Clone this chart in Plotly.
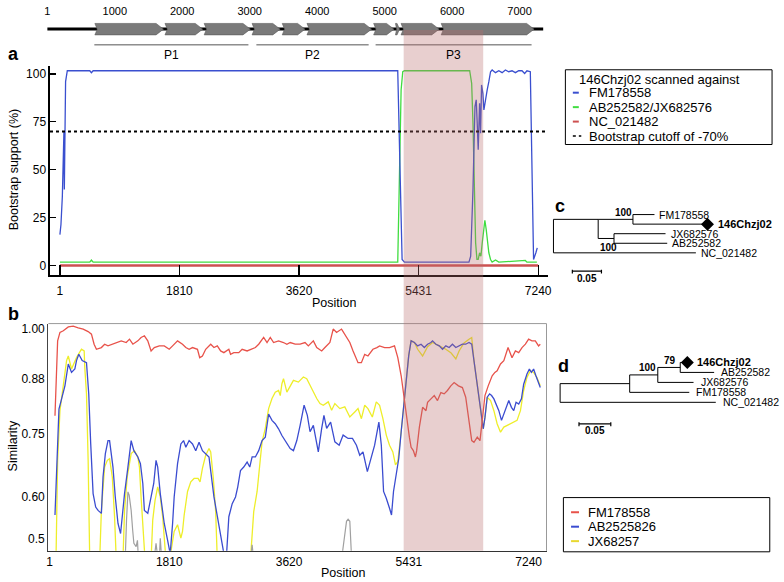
import plotly.graph_objects as go

W, H = 784, 582
FONT = "Liberation Sans, Arial, sans-serif"

# ----------------------------- data -----------------------------
genome_length = 7350
genome_ticks = [1, 1000, 2000, 3000, 4000, 5000, 6000, 7000]
gene_starts = [705, 1744, 2325, 3035, 3482, 3849, 4837, 5160, 5243, 5838]
gene_ends = [1722, 2303, 3010, 3452, 3820, 4807, 5138, 5220, 5808, 7215]
region_names = ["P1", "P2", "P3"]
region_starts = [697, 3099, 4866]
region_ends = [2981, 4763, 7178]
recombinant_region = [5205, 6409]

position_ticks = [1, 1810, 3620, 5431, 7240]
bootstrap_ticks = [0, 25, 50, 75, 100]
similarity_ticks = [0.5, 0.60, 0.75, 0.88, 1.00]
similarity_ticktext = ["0.5", "0.60", "0.75", "0.88", "1.00"]
bootstrap_cutoff = 70

query_name = "146Chzj02"
boot_legend_title = "146Chzj02 scanned against"
boot_names = ["FM178558", "AB252582/JX682576", "NC_021482"]
cutoff_name = "Bootstrap cutoff of -70%"
sim_names = ["FM178558", "AB2525826", "JX68257"]

# bootscan (panel a)
boot_pos_fm = [1, 17, 38, 53, 62, 68, 77, 87, 113, 453, 478, 504, 5115, 5181, 5216, 6193, 6219, 6254, 6284,
               6303, 6318, 6333, 6354, 6369, 6384, 6404, 6419, 6445, 6469, 6494, 6520, 6544, 6595, 6645, 6695,
               6745, 6795, 6845, 6896, 6946, 6996, 7036, 7071, 7122, 7146, 7171, 7206, 7227]
boot_fm = [16.1, 21.4, 36, 55, 70, 39.6, 69, 96, 101.7, 101.7, 100.7, 101.7, 101.7, 3.1, 1.7, 1.7, 4.8, 39.6, 83,
           86.5, 74.3, 60.4, 84.7, 69, 94.3, 89.9, 81.2, 88.2, 91.7, 96, 101.2, 102.1, 100.7, 101.7, 100.7,
           102.1, 101.2, 101.7, 100.7, 101.7, 101.7, 100.3, 101.7, 101.2, 39.6, 3.1, 6.6, 9.2]
boot_pos_ab = [1, 453, 478, 504, 5115, 5141, 5166, 5191, 5216, 6204, 6234, 6254, 6274, 6294, 6314, 6333, 6354,
               6374, 6394, 6419, 6434, 6454, 6474, 6494, 6520, 6544, 6595, 6645, 7046, 7071, 7221]
boot_ab = [1.7, 1.7, 2.8, 1.7, 1.7, 39.6, 91.7, 101.2, 101.7, 101.7, 95.1, 74.3, 39.6, 11.8, 3.1, 3.1, 6.6,
           4.8, 11.8, 20.5, 23.6, 18.8, 11.8, 6.6, 3.1, 1.7, 2.8, 1.7, 2.6, 1.7, 1.7]
boot_pos_nc = [1, 7240]
boot_nc = [0, 0]

# similarity plot (panel b)
sim_pos_fm = [83, 123, 158, 209, 284, 359, 434, 509, 584, 634, 674, 709, 784, 833, 884, 959, 1009, 1084, 1159,
              1209, 1260, 1335, 1384, 1434, 1485, 1535, 1584, 1659, 1734, 1809, 1860, 1935, 2010, 2060, 2110,
              2161, 2236, 2270, 2311, 2360, 2436, 2485, 2536, 2586, 2635, 2710, 2736, 2785, 2860, 2911, 2986,
              3062, 3111, 3161, 3236, 3287, 3336, 3386, 3461, 3536, 3587, 3637, 3712, 3787, 3862, 3911, 3987,
              4038, 4113, 4162, 4237, 4287, 4338, 4413, 4462, 4538, 4587, 4662, 4713, 4763, 4812, 4887, 4947,
              4988, 5063, 5138, 5213, 5263, 5314, 5348, 5389, 5438, 5464, 5498, 5529, 5548, 5589, 5638, 5689,
              5713, 5764, 5814, 5863, 5914, 5964, 6013, 6064, 6114, 6179, 6239, 6289, 6339, 6380, 6414, 6464,
              6505, 6539, 6580, 6629, 6689, 6730, 6764, 6815, 6865, 6929, 6989, 7040, 7090, 7140, 7191, 7240,
              7290, 7341, 7390, 7416]
sim_fm = [0.793, 0.971, 0.991, 0.995, 1.004, 1.006, 1.002, 0.999, 0.993, 0.987, 0.963, 0.951, 0.955, 0.963,
          0.959, 0.963, 0.967, 0.971, 0.967, 0.975, 0.963, 0.971, 0.979, 0.983, 0.971, 0.947, 0.955, 0.959,
          0.959, 0.951, 0.959, 0.971, 0.963, 0.955, 0.951, 0.955, 0.951, 0.931, 0.935, 0.951, 0.963, 0.955,
          0.959, 0.947, 0.943, 0.951, 0.939, 0.943, 0.943, 0.951, 0.947, 0.951, 0.955, 0.963, 0.979, 0.967,
          0.979, 0.967, 0.971, 0.967, 0.963, 0.967, 0.963, 0.963, 0.967, 0.959, 0.971, 0.955, 0.947, 0.955,
          0.967, 0.999, 0.991, 0.999, 0.987, 0.967, 0.947, 0.919, 0.919, 0.939, 0.935, 0.951, 0.955, 0.959,
          0.955, 0.955, 0.959, 0.931, 0.888, 0.845, 0.805, 0.742, 0.718, 0.710, 0.695, 0.710, 0.766, 0.813,
          0.805, 0.825, 0.833, 0.841, 0.829, 0.848, 0.845, 0.853, 0.864, 0.872, 0.864, 0.860, 0.837, 0.782,
          0.734, 0.730, 0.742, 0.734, 0.789, 0.841, 0.864, 0.888, 0.896, 0.900, 0.916, 0.924, 0.955, 0.931,
          0.947, 0.943, 0.955, 0.963, 0.975, 0.971, 0.971, 0.959, 0.963]
sim_pos_ab = [83, 108, 143, 183, 233, 284, 333, 383, 408, 443, 494, 559, 593, 623, 659, 698, 734, 784, 809, 844,
              884, 908, 959, 994, 1035, 1074, 1095, 1134, 1185, 1234, 1275, 1335, 1374, 1410, 1434, 1485, 1535,
              1575, 1610, 1635, 1674, 1710, 1734, 1785, 1824, 1860, 1884, 1935, 1985, 2026, 2060, 2110, 2161,
              2210, 2260, 2311, 2360, 2410, 2485, 2536, 2586, 2635, 2676, 2710, 2761, 2811, 2845, 2886, 2935,
              2986, 3026, 3062, 3111, 3161, 3212, 3261, 3311, 3362, 3411, 3461, 3512, 3562, 3637, 3686, 3737,
              3787, 3847, 3896, 3937, 3987, 4062, 4113, 4147, 4188, 4248, 4312, 4377, 4437, 4512, 4578, 4638,
              4688, 4737, 4803, 4863, 4913, 4977, 5014, 5048, 5089, 5138, 5168, 5198, 5239, 5278, 5314, 5348,
              5389, 5428, 5464, 5514, 5563, 5614, 5664, 5713, 5764, 5788, 5839, 5889, 5939, 5989, 6039, 6089,
              6140, 6189, 6239, 6289, 6339, 6380, 6414, 6449, 6490, 6530, 6554, 6580, 6614, 6650, 6680, 6715,
              6749, 6790, 6830, 6865, 6899, 6940, 6980, 7015, 7050, 7090, 7131, 7165, 7215, 7251, 7281, 7315,
              7350, 7380, 7416]
sim_ab = [0.557, 0.675, 0.809, 0.833, 0.864, 0.916, 0.896, 0.904, 0.924, 0.939, 0.924, 0.919, 0.845, 0.726,
          0.608, 0.576, 0.568, 0.561, 0.647, 0.703, 0.734, 0.734, 0.671, 0.600, 0.537, 0.513, 0.553, 0.608,
          0.671, 0.734, 0.710, 0.695, 0.679, 0.632, 0.568, 0.561, 0.600, 0.632, 0.687, 0.671, 0.608, 0.568,
          0.537, 0.497, 0.465, 0.537, 0.600, 0.679, 0.726, 0.734, 0.718, 0.734, 0.726, 0.710, 0.730, 0.710,
          0.703, 0.695, 0.600, 0.553, 0.505, 0.465, 0.465, 0.553, 0.584, 0.600, 0.624, 0.663, 0.671, 0.683,
          0.671, 0.695, 0.695, 0.710, 0.734, 0.742, 0.797, 0.782, 0.774, 0.762, 0.746, 0.734, 0.715, 0.710,
          0.734, 0.770, 0.818, 0.794, 0.755, 0.770, 0.707, 0.763, 0.794, 0.763, 0.778, 0.731, 0.723, 0.747,
          0.739, 0.739, 0.723, 0.699, 0.707, 0.660, 0.692, 0.723, 0.778, 0.723, 0.613, 0.597, 0.573, 0.557,
          0.613, 0.652, 0.692, 0.755, 0.810, 0.881, 0.936, 0.971, 0.967, 0.959, 0.963, 0.955, 0.963, 0.967,
          0.971, 0.963, 0.959, 0.951, 0.959, 0.955, 0.963, 0.955, 0.959, 0.963, 0.963, 0.967, 0.963, 0.924,
          0.884, 0.837, 0.782, 0.762, 0.789, 0.837, 0.845, 0.841, 0.833, 0.821, 0.805, 0.782, 0.797, 0.813,
          0.829, 0.813, 0.805, 0.825, 0.821, 0.833, 0.868, 0.892, 0.904, 0.896, 0.904, 0.888, 0.876, 0.860]
sim_pos_jx = [98, 123, 158, 209, 258, 284, 333, 408, 483, 524, 533, 559, 584, 608, 679, 758, 784, 833, 874, 908,
              949, 983, 1009, 1054, 1110, 1134, 1174, 1234, 1284, 1335, 1359, 1384, 1410, 1444, 1490, 1535, 1560,
              1595, 1635, 1674, 1710, 1734, 1760, 1835, 1884, 1935, 1985, 2010, 2035, 2086, 2135, 2185, 2245,
              2275, 2311, 2360, 2410, 2436, 2476, 2511, 2536, 2781, 3036, 3086, 3137, 3187, 3212, 3261, 3287,
              3311, 3362, 3411, 3461, 3487, 3512, 3536, 3587, 3637, 3686, 3761, 3836, 3887, 3937, 3987, 4038,
              4087, 4137, 4212, 4263, 4312, 4387, 4462, 4538, 4613, 4662, 4713, 4763, 4812, 4878, 4938, 4988,
              5038, 5089, 5138, 5188, 5228, 5263, 5314, 5348, 5389, 5428, 5464, 5514, 5563, 5638, 5713, 5788,
              5889, 5989, 6069, 6140, 6189, 6264, 6339, 6380, 6414, 6449, 6490, 6530, 6554, 6580, 6614, 6665,
              6715, 6764, 6815, 6865, 6914, 6965, 7015, 7065, 7116, 7165, 7215, 7266, 7315, 7365, 7416]
sim_jx = [0.45, 0.687, 0.805, 0.860, 0.924, 0.935, 0.904, 0.931, 0.951, 0.947, 0.908, 0.845, 0.687, 0.45, 0.42,
          0.45, 0.568, 0.671, 0.687, 0.691, 0.647, 0.553, 0.45, 0.42, 0.45, 0.568, 0.647, 0.703, 0.710, 0.695,
          0.671, 0.600, 0.537, 0.45, 0.42, 0.45, 0.545, 0.592, 0.624, 0.600, 0.553, 0.490, 0.45, 0.47, 0.518,
          0.534, 0.502, 0.518, 0.557, 0.613, 0.636, 0.644, 0.644, 0.636, 0.668, 0.699, 0.715, 0.707, 0.644,
          0.565, 0.45, 0.42, 0.45, 0.565, 0.613, 0.692, 0.731, 0.763, 0.786, 0.810, 0.834, 0.849, 0.853, 0.841,
          0.869, 0.881, 0.849, 0.865, 0.877, 0.873, 0.885, 0.881, 0.865, 0.849, 0.834, 0.822, 0.818, 0.826,
          0.806, 0.822, 0.810, 0.814, 0.790, 0.802, 0.810, 0.786, 0.818, 0.810, 0.790, 0.826, 0.818, 0.786,
          0.747, 0.723, 0.707, 0.676, 0.684, 0.755, 0.810, 0.881, 0.936, 0.971, 0.967, 0.951, 0.935, 0.957,
          0.967, 0.959, 0.951, 0.942, 0.928, 0.947, 0.966, 0.975, 0.979, 0.924, 0.884, 0.837, 0.782, 0.762,
          0.789, 0.837, 0.829, 0.805, 0.774, 0.754, 0.766, 0.770, 0.774, 0.777, 0.782, 0.805, 0.853, 0.884,
          0.900, 0.896, 0.884, 0.864]
sim_pos_other = [83, 1146, 1164, 1185, 1204, 1234, 1257, 1275, 1309, 1329, 1344, 1587, 1610, 1632, 1662, 1674,
                 1692, 3044, 3062, 3079, 4420, 4437, 4462, 4488, 4512, 4538, 4563, 7416]
sim_other = [0.44, 0.46, 0.545, 0.612, 0.604, 0.568, 0.521, 0.490, 0.482, 0.497, 0.45, 0.46, 0.490, 0.46, 0.46,
             0.502, 0.46, 0.46, 0.486, 0.46, 0.46, 0.484, 0.510, 0.542, 0.547, 0.542, 0.46, 0.44]

# phylogenetic trees: tip = (branch length, name); node = (branch length, [children], support[, attach])
tree_c = (0.0, [(0.0768, [(0.0597, [(0.037, "FM178558"), (0.128, "146Chzj02")], 100),
                          (0.0272, [(0.0885, "JX682576"), (0.0914, "AB252582")], 100)], None, "first"),
                (0.2446, "NC_021482")], None)
tree_d = (0.0, [(0.1094, [(0.0442, [(0.0353, [(0.0111, "146Chzj02"), (0.0533, "AB252582")], 79),
                                    (0.0562, "JX682576")], 100),
                          (0.0937, "FM178558")], None),
                (0.2448, "NC_021482")], None)
scale_bar_length = 0.05

# ----------------------------- helpers -----------------------------
def PX(x):
    return x / W


def PY(y):
    return 1 - y / H


BLACK = "#000000"
A_BLUE, A_GREEN, A_RED = "#3a4fcf", "#40dd40", "#cd5050"
B_RED, B_BLUE, B_YEL, B_GRAY = "#e8524a", "#3b4cd0", "#eeee2a", "#a0a0a0"

fig = go.Figure()
shapes = []
ann = []


def add_text(x, y, s, size=12, xanchor="center", yanchor="middle", xref="paper", yref="paper",
             angle=0, xshift=0, yshift=0, color=BLACK):
    ann.append(dict(x=x, y=y, text=s, xref=xref, yref=yref, showarrow=False, xanchor=xanchor,
                    yanchor=yanchor, textangle=angle, xshift=xshift, yshift=yshift,
                    font=dict(family=FONT, size=size, color=color)))


# ----------------------------- genome map -----------------------------
G_LINE, G_TOP, G_BOT, G_REG, G_LAB = -27, -21.5, -33, -43, -53.5
fig.add_trace(go.Scatter(x=[1, genome_length], y=[G_LINE, G_LINE], mode="lines",
                         line=dict(color=BLACK, width=3), xaxis="x3", yaxis="y3", hoverinfo="skip"))
ax, ay = [], []
for s, e in zip(gene_starts, gene_ends):
    tip = min(110, (e - s) * 0.6)
    notch = min(35, (e - s) * 0.3)
    ym = (G_TOP + G_BOT) / 2
    ax += [s, e - tip, e, e - tip, s, s + notch, s, None]
    ay += [G_TOP, G_TOP, ym, G_BOT, G_BOT, ym, G_TOP, None]
fig.add_trace(go.Scatter(x=ax, y=ay, mode="lines", fill="toself", fillcolor="#7a7a7a",
                         line=dict(color="#5a5a5a", width=0.6), xaxis="x3", yaxis="y3", hoverinfo="skip"))
rx, ry = [], []
for s, e in zip(region_starts, region_ends):
    rx += [s, e, None]
    ry += [G_REG, G_REG, None]
fig.add_trace(go.Scatter(x=rx, y=ry, mode="lines", line=dict(color="#555555", width=1),
                         xaxis="x3", yaxis="y3", hoverinfo="skip"))
for n, s, e in zip(region_names, region_starts, region_ends):
    add_text((s + e) / 2, G_LAB, n, size=12, xref="x3", yref="y3")

# ----------------------------- panel a -----------------------------
fig.add_trace(go.Scatter(x=boot_pos_nc, y=boot_nc, mode="lines", line=dict(color=A_RED, width=2.5),
                         name=boot_names[2]))
fig.add_trace(go.Scatter(x=boot_pos_ab, y=boot_ab, mode="lines", line=dict(color=A_GREEN, width=1.3),
                         name=boot_names[1]))
fig.add_trace(go.Scatter(x=boot_pos_fm, y=boot_fm, mode="lines", line=dict(color=A_BLUE, width=1.3),
                         name=boot_names[0]))
A_XR = [-149, 7397]
fig.add_trace(go.Scatter(x=[A_XR[0], 7370], y=[bootstrap_cutoff] * 2, mode="lines",
                         line=dict(color=BLACK, width=2, dash="dot"), name=cutoff_name))

# ----------------------------- panel b -----------------------------
fig.add_trace(go.Scatter(x=sim_pos_jx, y=sim_jx, mode="lines", line=dict(color=B_YEL, width=1.3),
                         xaxis="x2", yaxis="y2", name=sim_names[2]))
fig.add_trace(go.Scatter(x=sim_pos_other, y=sim_other, mode="lines", line=dict(color=B_GRAY, width=1.2),
                         xaxis="x2", yaxis="y2", name="other"))
fig.add_trace(go.Scatter(x=sim_pos_ab, y=sim_ab, mode="lines", line=dict(color=B_BLUE, width=1.3),
                         xaxis="x2", yaxis="y2", name=sim_names[1]))
fig.add_trace(go.Scatter(x=sim_pos_fm, y=sim_fm, mode="lines", line=dict(color=B_RED, width=1.3),
                         xaxis="x2", yaxis="y2", name=sim_names[0]))


# ----------------------------- trees -----------------------------
def layout_tree(tree):
    sx, sy, tips, sup = [], [], [], []
    counter = [0]

    def rec(node, x0):
        bl = node[0]
        x = x0 + bl
        if isinstance(node[1], str):
            y = counter[0]
            counter[0] += 1
            tips.append((x, y, node[1]))
        else:
            ys = [rec(ch, x) for ch in node[1]]
            attach = node[3] if len(node) > 3 else "mid"
            y = ys[0] if attach == "first" else (ys[0] + ys[-1]) / 2
            sx.extend([x, x, None])
            sy.extend([ys[0], ys[-1], None])
            if node[2] is not None:
                sup.append((x, (ys[0] + ys[-1]) / 2, node[2]))
        if bl > 0:
            sx.extend([x0, x, None])
            sy.extend([y, y, None])
        return y

    rec(tree, 0.0)
    return sx, sy, tips, sup


def tree_axes(root_px, ppu, tip0_py, row_px, dom_y):
    xa = dict(domain=[PX(550), 1.0], range=[(550 - root_px) / ppu, (784 - root_px) / ppu], visible=False)
    ya = dict(domain=[PY(dom_y[1]), PY(dom_y[0])],
              range=[(dom_y[1] - tip0_py) / row_px, (dom_y[0] - tip0_py) / row_px], visible=False)
    return xa, ya


tree_specs = [
    (tree_c, "4", 555, 586, 213.3, 9.6, (195, 285), 3, 9, [(-9, 7), (-6, -9.5)], (574, 270), "c", (562, 205)),
    (tree_d, "5", 561.7, 640, 361.7, 10.0, (340, 440), 5, 8, [(-10, 6.7), (-10.7, 7.5)], (580.7, 423.3), "d",
     (565, 365)),
]
tree_axes_layout = {}
for (tree, sfx, rpx, ppu, t0, row, domy, gap, qgap, sshift, sbar, letter, lpos) in tree_specs:
    xa, ya = tree_axes(rpx, ppu, t0, row, domy)
    xa["anchor"] = "y" + sfx
    ya["anchor"] = "x" + sfx
    tree_axes_layout["xaxis" + sfx] = xa
    tree_axes_layout["yaxis" + sfx] = ya
    sx, sy, tips, sup = layout_tree(tree)
    fig.add_trace(go.Scatter(x=sx, y=sy, mode="lines", line=dict(color=BLACK, width=1),
                             xaxis="x" + sfx, yaxis="y" + sfx, hoverinfo="skip"))
    for (x, y, name) in tips:
        if name == query_name:
            fig.add_trace(go.Scatter(x=[x], y=[y], mode="markers",
                                     marker=dict(symbol="diamond", size=10, color=BLACK),
                                     xaxis="x" + sfx, yaxis="y" + sfx, hoverinfo="skip"))
            add_text(x, y, "<b>%s</b>" % name, size=11, xanchor="left", xref="x" + sfx, yref="y" + sfx,
                     xshift=qgap)
        else:
            add_text(x, y, name, size=10.5, xanchor="left", xref="x" + sfx, yref="y" + sfx, xshift=gap)
    for (x, y, s), (dx, dy) in zip(sup, sshift):
        add_text(x, y, "<b>%d</b>" % s, size=10, xref="x" + sfx, yref="y" + sfx, xshift=dx, yshift=dy)
    sb_x0 = (sbar[0] - rpx) / ppu
    sb_y = (sbar[1] - t0) / row
    sb_x1 = sb_x0 + scale_bar_length
    fig.add_trace(go.Scatter(x=[sb_x0, sb_x1, None, sb_x0, sb_x0, None, sb_x1, sb_x1],
                             y=[sb_y, sb_y, None, sb_y - 0.15, sb_y + 0.25, None, sb_y - 0.15, sb_y + 0.25],
                             mode="lines", line=dict(color=BLACK, width=1.2),
                             xaxis="x" + sfx, yaxis="y" + sfx, hoverinfo="skip"))
    add_text((sb_x0 + sb_x1) / 2, sb_y, "<b>%g</b>" % scale_bar_length, size=10, xref="x" + sfx,
             yref="y" + sfx, yshift=-7)
    add_text(PX(lpos[0]), PY(lpos[1]), "<b>%s</b>" % letter, size=18)

# ----------------------------- legends -----------------------------
shapes.append(dict(type="rect", xref="paper", yref="paper", x0=PX(567), x1=PX(775), y0=PY(143), y1=PY(68),
                   line=dict(color=BLACK, width=1)))
add_text(PX(579), PY(77.5), boot_legend_title, size=13, xanchor="left")
leg_a_y = [91, 105.5, 120, 134.5]
for name, col, y in zip(boot_names, [A_BLUE, A_GREEN, A_RED], leg_a_y):
    shapes.append(dict(type="line", xref="paper", yref="paper", x0=PX(574.5), x1=PX(580.5), y0=PY(y), y1=PY(y),
                       line=dict(color=col, width=2)))
    add_text(PX(588.5), PY(y), name, size=13, xanchor="left")
shapes.append(dict(type="line", xref="paper", yref="paper", x0=PX(574.5), x1=PX(583), y0=PY(leg_a_y[3]),
                   y1=PY(leg_a_y[3]), line=dict(color=BLACK, width=1.5, dash="dot")))
add_text(PX(588.5), PY(leg_a_y[3]), cutoff_name, size=13, xanchor="left")

shapes.append(dict(type="rect", xref="paper", yref="paper", x0=PX(565), x1=PX(772.7), y0=PY(551.7),
                   y1=PY(497.3), line=dict(color=BLACK, width=1)))
for name, col, y in zip(sim_names, [B_RED, B_BLUE, "#e8d830"], [512, 526.5, 541]):
    shapes.append(dict(type="line", xref="paper", yref="paper", x0=PX(572.7), x1=PX(580.7), y0=PY(y), y1=PY(y),
                       line=dict(color=col, width=2)))
    add_text(PX(587.3), PY(y), name, size=13, xanchor="left")

# ----------------------------- frames, band, titles -----------------------------
shapes.append(dict(type="line", xref="x2 domain", yref="y2 domain", x0=0, x1=1, y0=1, y1=1,
                   line=dict(color="#999999", width=1)))
shapes.append(dict(type="line", xref="x2 domain", yref="y2 domain", x0=1, x1=1, y0=0, y1=1,
                   line=dict(color="#999999", width=1)))
shapes.append(dict(type="rect", xref="x", yref="paper", x0=recombinant_region[0], x1=recombinant_region[1],
                   y0=PY(550.7), y1=PY(28), fillcolor="rgb(185,110,110)", opacity=0.33,
                   line=dict(width=0), layer="above"))

add_text(PX(12), PY(168), "Bootstrap support (%)", size=12.5, angle=-90)
add_text(PX(12), PY(445), "Similarity", size=12.5, angle=-90)
add_text(PX(335), PY(302), "Position", size=12.5)
add_text(PX(344), PY(573), "Position", size=12.5)
add_text(PX(12), PY(52), "<b>a</b>", size=18)
add_text(PX(12), PY(313), "<b>b</b>", size=18)

axis_font = dict(family=FONT, size=12, color=BLACK)
fig.update_layout(
    width=W, height=H, margin=dict(l=0, r=0, t=0, b=0),
    paper_bgcolor="white", plot_bgcolor="white", showlegend=False,
    font=dict(family=FONT, color=BLACK),
    xaxis=dict(domain=[PX(48.3), PX(550)], range=A_XR, anchor="y", showline=True, linecolor=BLACK,
               linewidth=1.5, ticks="inside", ticklen=10, tickwidth=1.2, tickcolor=BLACK,
               tickvals=position_ticks, tickfont=axis_font, showgrid=False, zeroline=False,
               ticklabelstandoff=4),
    yaxis=dict(domain=[PY(274.3), PY(64)], range=[-5.2, 104.3], anchor="x", showline=True, linecolor=BLACK,
               linewidth=1.5, ticks="inside", ticklen=6, tickwidth=1.2, tickcolor=BLACK,
               tickvals=bootstrap_ticks, tickfont=axis_font, showgrid=False, zeroline=False),
    xaxis2=dict(domain=[PX(46.7), PX(548)], range=[-16.5, 7510], anchor="y2", showline=True, linecolor="#333333",
                linewidth=1.2, ticks="", tickvals=position_ticks, tickfont=axis_font, showgrid=False,
                zeroline=False),
    yaxis2=dict(domain=[PY(550.7), PY(322.7)], range=[0.472, 1.012], anchor="x2", showline=True,
                linecolor="#444444", linewidth=1.2, ticks="", tickvals=similarity_ticks,
                ticktext=similarity_ticktext, tickfont=axis_font, showgrid=False, zeroline=False),
    xaxis3=dict(domain=[0, 1], range=[-671.6, 10874.8], anchor="y3", side="top", showline=False, ticks="",
                tickvals=genome_ticks, tickfont=dict(family=FONT, size=11, color=BLACK), showgrid=False,
                zeroline=False),
    yaxis3=dict(domain=[PY(60), PY(16)], range=[-60, -16], anchor="x3", visible=False),
    shapes=shapes, annotations=ann,
)
fig.update_layout(**tree_axes_layout)

fig.write_html("out.html", config={"displayModeBar": False, "staticPlot": True},
               post_script="document.body.style.margin='0px';document.body.style.overflow='hidden';")
